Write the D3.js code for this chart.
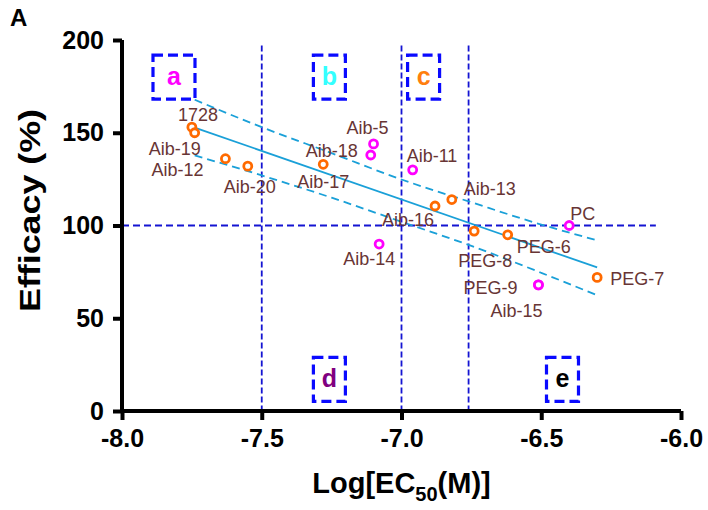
<!DOCTYPE html>
<html>
<head>
<meta charset="utf-8">
<script src="https://cdn.jsdelivr.net/npm/d3@7"></script>
<style>
  body { margin: 0; background: #fff; }
  svg { font-family: "Liberation Sans", Arial, sans-serif; }
</style>
</head>
<body>
<div class="chart-container"></div>
<script>
// values
const xTicks = [-8.0, -7.5, -7.0, -6.5, -6.0];
const yTicks = [0, 50, 100, 150, 200];

// orange compounds
const orangeNames = ["1728", "Aib-19", "Aib-12", "Aib-20", "Aib-17", "Aib-16", "Aib-13", "PEG-8", "PEG-6", "PEG-7"];
const orangeX = [-7.75, -7.74, -7.63, -7.55, -7.28, -6.88, -6.82, -6.74, -6.62, -6.30];
const orangeY = [153, 150, 136, 132, 133, 110.5, 114, 97, 95, 72];

// magenta compounds
const magentaNames = ["Aib-5", "Aib-18", "Aib-11", "Aib-14", "PC", "PEG-9", "Aib-15"];
const magentaX = [-7.10, -7.11, -6.96, -7.08, -6.40, -6.51, -6.51];
const magentaY = [144, 138, 130, 90, 100, 68, 68];

// linear fit and its 95% band
const fitX = [-7.74, -6.30];
const fitY = [152.8, 77.4];
const bandX = [-7.74, -7.5, -7.25, -7.0, -6.75, -6.5, -6.3];
const bandUpper = [167.8, 153.0, 139.0, 124.8, 112.5, 100.5, 92.0];
const bandLower = [137.8, 127.0, 115.0, 102.0, 89.0, 74.5, 62.4];

// reference cut-offs
const cutX = [-7.5, -7.0, -6.76];
const cutY = 100;

// region boxes
const boxLetters = ["a", "b", "c", "d", "e"];
const boxX = [-7.814, -7.258, -6.921, -7.258, -6.424];
const boxY = [180, 180, 180, 17, 17];

// label offsets (layout only)
const labelOffset = {
  "1728": [-14, -6], "Aib-19": [-46, 22], "Aib-12": [-74, 17], "Aib-20": [-24, 27],
  "Aib-17": [-26, 24], "Aib-16": [-53, 20], "Aib-13": [12, -5], "PEG-8": [-16, 36],
  "PEG-6": [9, 18], "PEG-7": [13, 8], "Aib-5": [-27, -10], "Aib-18": [-65, 2],
  "Aib-11": [-6, -8], "Aib-14": [-36, 21], "PC": [1, -6], "PEG-9": [-75, 9], "Aib-15": [-48, 32]
};
const boxColors = { a: "#ff00ff", b: "#33ffff", c: "#ff7f0e", d: "#800080", e: "#000000" };
const boxW = { a: 42, b: 32, c: 32, d: 32, e: 32 };

const W = 708, H = 510;
const margin = { top: 40, right: 27, bottom: 99, left: 122 },
      width = W - margin.left - margin.right,
      height = H - margin.top - margin.bottom;

const svg = d3.select(".chart-container").append("svg")
    .attr("width", W)
    .attr("height", H);

const g = svg.append("g")
    .attr("transform", "translate(" + margin.left + "," + margin.top + ")");

const x = d3.scaleLinear().domain([-8, -6]).range([0, width]);
const y = d3.scaleLinear().domain([0, 200]).range([height, 0]);

// cut-off lines
cutX.forEach(v => {
    g.append("line")
        .attr("x1", x(v)).attr("x2", x(v))
        .attr("y1", y(197)).attr("y2", y(0))
        .attr("stroke", "#1414d2").attr("stroke-width", 1.8)
        .attr("stroke-dasharray", "6,3");
});
g.append("line")
    .attr("x1", x(-8)).attr("x2", x(-6.09))
    .attr("y1", y(cutY)).attr("y2", y(cutY))
    .attr("stroke", "#1414d2").attr("stroke-width", 1.8)
    .attr("stroke-dasharray", "7,4");

// fit + band
const bandLine = d3.line().curve(d3.curveMonotoneX).x(d => x(d[0])).y(d => y(d[1]));
[bandUpper, bandLower].forEach(arr => {
    g.append("path")
        .attr("d", bandLine(bandX.map((v, i) => [v, arr[i]])))
        .attr("fill", "none")
        .attr("stroke", "#1aa0d8").attr("stroke-width", 1.8)
        .attr("stroke-dasharray", "8,5");
});
g.append("path")
    .attr("d", d3.line().x(d => x(d[0])).y(d => y(d[1]))(fitX.map((v, i) => [v, fitY[i]])))
    .attr("fill", "none")
    .attr("stroke", "#1aa0d8").attr("stroke-width", 1.8);

// region boxes
boxLetters.forEach((l, i) => {
    const cx = x(boxX[i]), cy = y(boxY[i]), w = boxW[l], h = 44;
    g.append("rect")
        .attr("x", cx - w / 2).attr("y", cy - h / 2)
        .attr("width", w).attr("height", h)
        .attr("fill", "none")
        .attr("stroke", "#0a0aff").attr("stroke-width", 3.2)
        .attr("stroke-dasharray", "10,5");
    g.append("text")
        .attr("x", cx).attr("y", cy + 8)
        .attr("text-anchor", "middle")
        .attr("font-size", 25).attr("font-weight", "bold")
        .attr("fill", boxColors[l])
        .text(l);
});

// axes
const xAxis = g.append("g")
    .attr("transform", "translate(0," + height + ")")
    .call(d3.axisBottom(x).tickValues(xTicks).tickFormat(d3.format(".1f")).tickSize(9).tickPadding(6));
const yAxis = g.append("g")
    .call(d3.axisLeft(y).tickValues(yTicks).tickSize(9).tickPadding(9));
[xAxis, yAxis].forEach(a => {
    a.select(".domain").attr("stroke", "#000").attr("stroke-width", 4);
    a.selectAll(".tick line").attr("stroke", "#000").attr("stroke-width", 4);
    a.selectAll(".tick text")
        .attr("font-family", "'Liberation Sans', Arial, sans-serif")
        .attr("font-size", 25).attr("font-weight", "bold").attr("fill", "#000");
});
xAxis.selectAll(".tick text").text(d => d3.format(".1f")(d).replace("−", "-"));
xAxis.selectAll(".tick text").attr("dy", "0.85em");
yAxis.select(".domain").attr("d", "M0," + height + "V0");
xAxis.select(".domain").attr("d", "M0,0H" + width);

// points
function drawPoints(names, xs, ys, color) {
    names.forEach((n, i) => {
        const px = x(xs[i]), py = y(ys[i]);
        g.append("circle")
            .attr("cx", px).attr("cy", py).attr("r", 4)
            .attr("fill", "#fff")
            .attr("stroke", color).attr("stroke-width", 2.8);
        const o = labelOffset[n];
        g.append("text")
            .attr("x", px + o[0]).attr("y", py + o[1])
            .attr("font-size", 18)
            .attr("fill", "#683535")
            .text(n);
    });
}
drawPoints(orangeNames, orangeX, orangeY, "#ff6a00");
drawPoints(magentaNames, magentaX, magentaY, "#ff00ff");

// titles
svg.append("text")
    .attr("x", 10).attr("y", 26)
    .attr("font-size", 24).attr("font-weight", "bold")
    .text("A");

svg.append("text")
    .attr("transform", "translate(40," + (margin.top + y(100) - 15) + ") rotate(-90)")
    .attr("text-anchor", "middle")
    .attr("font-size", 29).attr("font-weight", "bold")
    .attr("textLength", 203).attr("lengthAdjust", "spacingAndGlyphs")
    .text("Efficacy (%)");

const xt = svg.append("text")
    .attr("x", margin.left + x(-7.0))
    .attr("y", 493)
    .attr("text-anchor", "middle")
    .attr("font-size", 29).attr("font-weight", "bold");
xt.append("tspan").text("Log[EC");
xt.append("tspan").attr("font-size", 20).attr("dy", 8).text("50");
xt.append("tspan").attr("dy", -8).text("(M)]");
</script>
</body>
</html>
